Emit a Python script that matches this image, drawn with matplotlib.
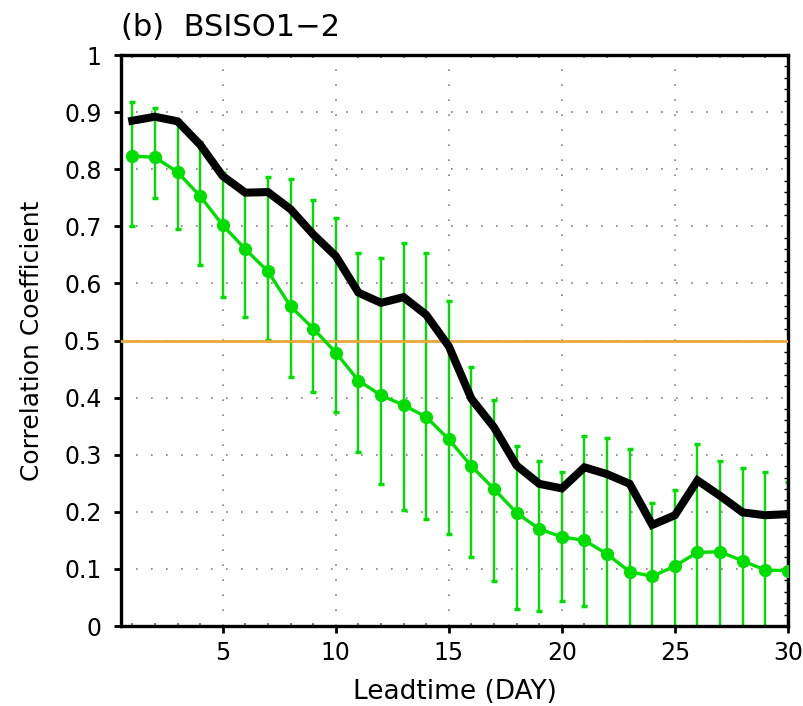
import matplotlib
matplotlib.use('Agg')
import matplotlib.pyplot as plt
import numpy as np
from matplotlib.ticker import MultipleLocator

# Lead time (days)
leadtime = list(range(1, 31))

# Black curve
black_corr = [0.885, 0.892, 0.884, 0.843, 0.788, 0.759, 0.760, 0.730, 0.686, 0.648,
              0.584, 0.566, 0.576, 0.545, 0.490, 0.398, 0.348, 0.281, 0.249, 0.241,
              0.278, 0.266, 0.249, 0.177, 0.194, 0.255, 0.228, 0.199, 0.194, 0.196]

# Green curve (mean) with spread
green_mean = [0.823, 0.821, 0.795, 0.753, 0.702, 0.660, 0.621, 0.560, 0.521, 0.479,
              0.430, 0.404, 0.387, 0.366, 0.327, 0.280, 0.240, 0.198, 0.170, 0.156,
              0.150, 0.126, 0.095, 0.087, 0.105, 0.129, 0.130, 0.114, 0.098, 0.097]
green_upper = [0.918, 0.908, 0.886, 0.847, 0.794, 0.764, 0.787, 0.783, 0.746, 0.715,
               0.654, 0.644, 0.670, 0.653, 0.569, 0.454, 0.396, 0.316, 0.289, 0.270,
               0.333, 0.329, 0.310, 0.216, 0.239, 0.319, 0.289, 0.276, 0.269, 0.253]
green_lower = [0.701, 0.749, 0.695, 0.633, 0.577, 0.541, 0.501, 0.436, 0.410, 0.374,
               0.305, 0.249, 0.203, 0.187, 0.161, 0.120, 0.078, 0.030, 0.027, 0.043,
               0.035, -0.081, -0.124, -0.044, -0.031, -0.065, -0.033, -0.050, -0.077, -0.063]

ref_level = 0.5

green = '#00DD00'

fig = plt.figure(figsize=(8.04, 7.06), dpi=100)
ax = fig.add_axes([0.1505, 0.1133, 0.8295, 0.8087])

x = np.array(leadtime)
gm = np.array(green_mean)
yerr = [gm - np.array(green_lower), np.array(green_upper) - gm]

ax.errorbar(x, gm, yerr=yerr, fmt='none', ecolor=green, elinewidth=1.7,
            capsize=2, capthick=2.5, zorder=2)
ax.axhline(ref_level, color='#E8A838', lw=2, zorder=3)
ax.plot(x, gm, color=green, lw=2.4, marker='o', ms=8.5, zorder=4)
ax.plot(x, black_corr, color='black', lw=5.8, solid_joinstyle='miter', zorder=5)

ax.set_xlim(0.5, 30)
ax.set_ylim(0, 1)
ax.xaxis.set_minor_locator(MultipleLocator(1))
ax.yaxis.set_minor_locator(MultipleLocator(0.02))
ax.set_yticks(np.arange(0, 1.01, 0.1))
ax.set_yticklabels(['0'] + ['%.1f' % v for v in np.arange(0.1, 0.95, 0.1)] + ['1'],
                   fontsize=17)
ax.set_xticks([5, 10, 15, 20, 25, 30])
ax.set_xticklabels(['5', '10', '15', '20', '25', '30'], fontsize=17)

ax.grid(True, which='major', color='gray', ls=(0, (1, 8)), lw=1.2)
for s in ax.spines.values():
    s.set_linewidth(2.4)

ax.tick_params(axis='both', which='major', direction='out', length=5, width=2,
               pad=6)
ax.tick_params(axis='y', which='major', pad=9)
ax.tick_params(axis='x', which='minor', direction='in', length=2, width=1.5,
               color='gray', top=True)
ax.tick_params(axis='y', which='minor', direction='in', length=3, width=1,
               left=False, right=True)

ax.set_xlabel('Leadtime (DAY)', fontsize=19, labelpad=10)
ax.set_ylabel('Correlation Coefficient', fontsize=18, labelpad=14)
ax.set_title('(b)  BSISO1\u22122', loc='left', fontsize=22, pad=14)

fig.savefig('out.png', dpi=100)
